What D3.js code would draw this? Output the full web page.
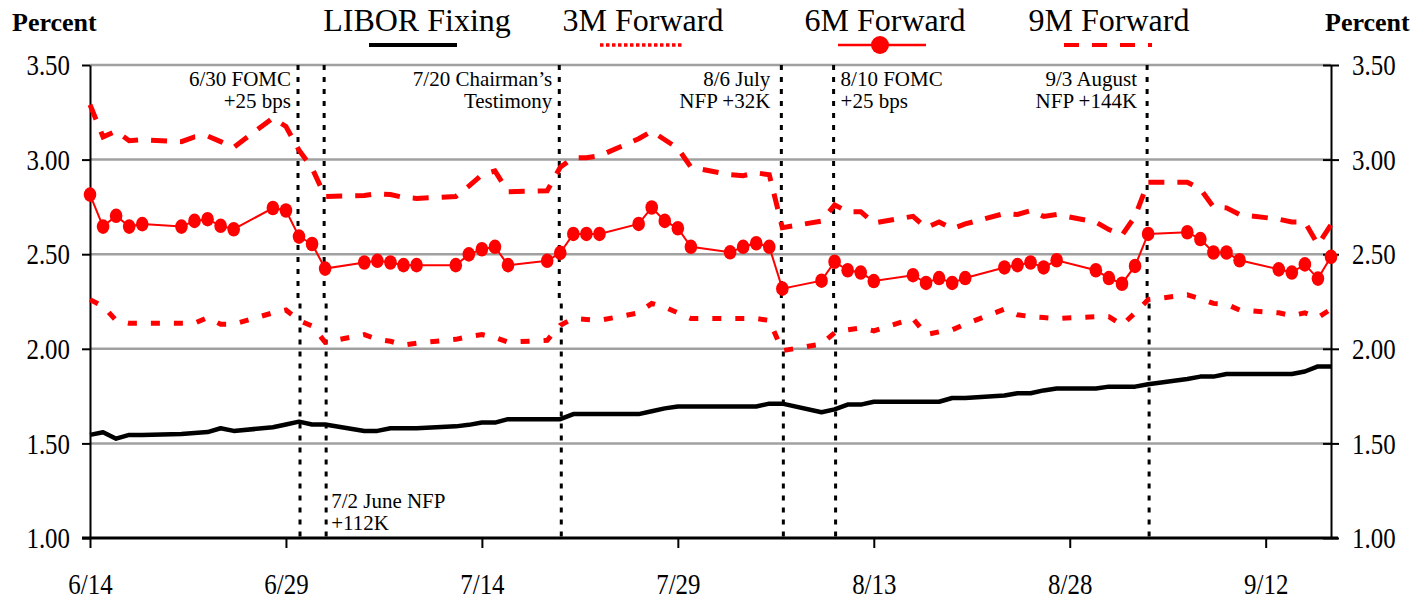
<!DOCTYPE html>
<html><head><meta charset="utf-8">
<script src="https://cdn.jsdelivr.net/npm/d3@7"></script>
<style>html,body{margin:0;padding:0;background:#fff;} svg{display:block;}</style>
</head><body><svg id="c" width="1427" height="604"></svg>
<script>
// ---- data ----
const dates = ["6/14","6/15","6/16","6/17","6/18","6/21","6/22","6/23","6/24","6/25",
"6/28","6/29","6/30","7/1","7/2","7/5","7/6","7/7","7/8","7/9",
"7/12","7/13","7/14","7/15","7/16","7/19","7/20","7/21","7/22","7/23",
"7/26","7/27","7/28","7/29","7/30","8/2","8/3","8/4","8/5","8/6",
"8/9","8/10","8/11","8/12","8/13","8/16","8/17","8/18","8/19","8/20",
"8/23","8/24","8/25","8/26","8/27","8/30","8/31","9/1","9/2","9/3",
"9/6","9/7","9/8","9/9","9/10","9/13","9/14","9/15","9/16","9/17"];
const libor = [1.545,1.559,1.525,1.545,1.545,1.55,1.555,1.56,1.58,1.566,
1.585,1.60,1.615,1.60,1.60,1.566,1.566,1.58,1.58,1.58,
1.59,1.598,1.61,1.61,1.628,1.628,1.628,1.655,1.655,1.655,
1.655,1.67,1.685,1.695,1.695,1.695,1.695,1.695,1.71,1.71,
1.665,1.68,1.705,1.705,1.72,1.72,1.72,1.72,1.74,1.74,
1.753,1.765,1.765,1.78,1.79,1.79,1.80,1.80,1.80,1.813,
1.84,1.853,1.853,1.867,1.867,1.867,1.867,1.88,1.907,1.907];
const fwd3m = [2.26,2.225,2.15,2.135,2.135,2.135,2.135,2.165,2.13,2.13,
2.19,2.205,2.15,2.12,2.035,2.075,2.05,2.04,2.02,2.03,
2.05,2.065,2.075,2.06,2.035,2.045,2.125,2.16,2.155,2.15,
2.19,2.24,2.22,2.19,2.16,2.16,2.16,2.16,2.15,1.99,
2.025,2.085,2.10,2.11,2.095,2.16,2.075,2.09,2.10,2.13,
2.21,2.18,2.17,2.165,2.16,2.17,2.17,2.125,2.19,2.26,
2.285,2.265,2.24,2.235,2.205,2.19,2.175,2.19,2.165,2.21];
const fwd6m = [2.815,2.646,2.703,2.646,2.659,2.646,2.676,2.685,2.65,2.632,
2.744,2.731,2.593,2.554,2.424,2.456,2.465,2.456,2.442,2.442,
2.442,2.499,2.526,2.539,2.442,2.465,2.507,2.607,2.607,2.607,
2.66,2.747,2.676,2.637,2.539,2.51,2.539,2.558,2.539,2.318,
2.36,2.46,2.415,2.403,2.358,2.389,2.348,2.374,2.348,2.374,
2.43,2.442,2.456,2.43,2.468,2.415,2.374,2.344,2.438,2.607,
2.616,2.58,2.509,2.509,2.468,2.42,2.403,2.446,2.371,2.486];
const fwd9m = [3.29,3.12,3.15,3.10,3.105,3.095,3.12,3.125,3.095,3.065,
3.22,3.175,3.05,2.955,2.805,2.81,2.82,2.815,2.80,2.795,
2.805,2.86,2.92,2.94,2.83,2.835,2.96,3.01,3.01,3.02,
3.11,3.15,3.105,3.06,2.96,2.92,2.915,2.93,2.92,2.64,
2.675,2.76,2.725,2.725,2.665,2.70,2.64,2.67,2.635,2.66,
2.715,2.71,2.73,2.70,2.71,2.67,2.63,2.60,2.70,2.88,
2.88,2.845,2.75,2.745,2.71,2.685,2.67,2.67,2.55,2.655];
const yTicks = [1.0,1.5,2.0,2.5,3.0,3.5];
const xTickLabels = ["6/14","6/29","7/14","7/29","8/13","8/28","9/12"];
const eventDates = ["6/30","7/2","7/20","8/6","8/10","9/3"];
const eventText = [["6/30 FOMC","+25 bps"],["7/2 June NFP","+112K"],["7/20 Chairman\u2019s","Testimony"],["8/6 July","NFP +32K"],["8/10 FOMC","+25 bps"],["9/3 August","NFP +144K"]];
const seriesNames = ["LIBOR Fixing","3M Forward","6M Forward","9M Forward"];

// ---- setup ----
const pd = s => d3.timeParse("%m/%d/%Y")(s + "/2004");
const svg = d3.select("#c");
const FONT = "'Liberation Serif','Times New Roman',serif";
const x = d3.scaleTime().domain([pd("6/14"), pd("9/17")]).range([90, 1331]);
const y = d3.scaleLinear().domain([1, 3.5]).range([538, 65]);
const RED = "#ff0000";

function squeeze(sel, f) {
  sel.each(function(){ const L = this.getComputedTextLength(); d3.select(this).attr("textLength", L*f).attr("lengthAdjust","spacingAndGlyphs"); });
}

// gridlines
svg.append("g").selectAll("line").data(yTicks.filter(d => d > 1)).join("line")
  .attr("x1", 90).attr("x2", 1331).attr("y1", d => y(d)).attr("y2", d => y(d))
  .attr("stroke", "#a0a0a0").attr("stroke-width", 2.5);

// event lines
const ev = svg.append("g");
eventDates.forEach(d => {
  const xx = x(pd(d));
  ev.append("line").attr("x1", xx-1).attr("x2", xx-1).attr("y1", y(3.5)).attr("y2", y(2.24))
    .attr("stroke","#000").attr("stroke-width",3).attr("stroke-dasharray","5,7");
  ev.append("line").attr("x1", xx+1).attr("x2", xx+1).attr("y1", y(2.24)).attr("y2", y(1))
    .attr("stroke","#000").attr("stroke-width",3).attr("stroke-dasharray","5,7");
});

// axes
const yl = svg.append("g").attr("transform","translate(90,0)")
  .call(d3.axisLeft(y).tickValues(yTicks).tickSize(8).tickSizeOuter(0).tickPadding(12).tickFormat(d3.format(".2f")));
const yr = svg.append("g").attr("transform","translate(1331,0)")
  .call(d3.axisRight(y).tickValues(yTicks).tickSize(8).tickSizeOuter(0).tickPadding(13).tickFormat(d3.format(".2f")));
yr.selectAll(".tick line").attr("x1",-8).attr("x2",8);
[yl, yr].forEach(g => {
  g.select(".domain").attr("stroke","#000").attr("stroke-width",2);
  g.selectAll(".tick line").attr("stroke","#000").attr("stroke-width",2);
  g.selectAll("text").attr("font-family",FONT).attr("font-size",30).attr("fill","#000");
  squeeze(g.selectAll("text"), 0.83);
});
const xa = svg.append("g").attr("transform","translate(0,538)")
  .call(d3.axisBottom(x).tickValues(xTickLabels.map(pd)).tickSize(10).tickSizeOuter(0).tickPadding(25).tickFormat(d3.timeFormat("%-m/%-d")));
xa.select(".domain").attr("stroke","#000").attr("stroke-width",3).attr("d","M82,0H1338");
xa.selectAll(".tick line").attr("stroke","#000").attr("stroke-width",2);
xa.selectAll("text").attr("font-family",FONT).attr("font-size",30).attr("fill","#000");
squeeze(xa.selectAll("text"), 0.83);

// series
const xi = i => x(pd(dates[i]));
const mk = arr => d3.line().x((d,i) => xi(i)).y(d => y(d));
svg.append("path").attr("d", mk()(fwd9m)).attr("fill","none").attr("stroke",RED).attr("stroke-width",5).attr("stroke-dasharray","16,13");
svg.append("path").attr("d", mk()(fwd3m)).attr("fill","none").attr("stroke",RED).attr("stroke-width",5).attr("stroke-dasharray","9,14");
svg.append("path").attr("d", mk()(libor)).attr("fill","none").attr("stroke","#000").attr("stroke-width",4.5).attr("stroke-linejoin","round");
svg.append("path").attr("d", mk()(fwd6m)).attr("fill","none").attr("stroke",RED).attr("stroke-width",2);
svg.append("g").selectAll("ellipse").data(fwd6m).join("ellipse")
  .attr("cx",(d,i) => xi(i)).attr("cy", d => y(d)).attr("rx",6.3).attr("ry",7.3).attr("fill",RED);

// event annotations
const ann = svg.append("g").attr("font-family",FONT).attr("font-size",21).attr("fill","#000");
const annPos = [
  {a:"end", dx:-8, y:[86,108]},
  {a:"start", dx:6, y:[508,530]},
  {a:"end", dx:-8, y:[86,108]},
  {a:"end", dx:-12, y:[86,108]},
  {a:"start", dx:6, y:[86,108]},
  {a:"end", dx:-11, y:[86,108]}
];
eventDates.forEach((d,k) => {
  const xx = x(pd(d));
  eventText[k].forEach((t,j) => {
    ann.append("text").attr("x", xx + annPos[k].dx).attr("y", annPos[k].y[j]).attr("text-anchor", annPos[k].a).text(t);
  });
});

// titles
svg.append("text").attr("x",12).attr("y",31).attr("font-family",FONT).attr("font-weight","bold").attr("font-size",26).text("Percent");
svg.append("text").attr("x",1325).attr("y",31).attr("font-family",FONT).attr("font-weight","bold").attr("font-size",26).text("Percent");

// legend
const lg = svg.append("g");
const lgX = [413, 642, 882, 1108];
const lgT = [417, 643, 885, 1109];
seriesNames.forEach((n,k) => {
  lg.append("text").attr("x",lgT[k]).attr("y",31).attr("text-anchor","middle").attr("font-family",FONT).attr("font-size",32).text(n);
});
lg.append("line").attr("x1",lgX[0]-44).attr("x2",lgX[0]+44).attr("y1",45).attr("y2",45).attr("stroke","#000").attr("stroke-width",4);
lg.append("line").attr("x1",lgX[1]-42).attr("x2",lgX[1]+42).attr("y1",45).attr("y2",45).attr("stroke",RED).attr("stroke-width",3.5).attr("stroke-dasharray","3.5,2.5");
lg.append("line").attr("x1",lgX[2]-44).attr("x2",lgX[2]+44).attr("y1",45).attr("y2",45).attr("stroke",RED).attr("stroke-width",2.5);
lg.append("circle").attr("cx",lgX[2]-2).attr("cy",45).attr("r",9).attr("fill",RED);
lg.append("line").attr("x1",lgX[3]-44).attr("x2",lgX[3]+44).attr("y1",45).attr("y2",45).attr("stroke",RED).attr("stroke-width",4).attr("stroke-dasharray","15,13");
</script></body></html>
